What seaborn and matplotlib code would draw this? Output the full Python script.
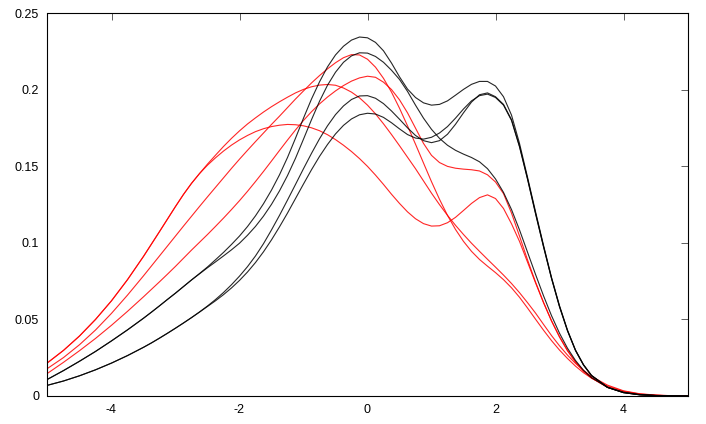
import numpy as np
import pandas as pd
import matplotlib
matplotlib.use("Agg")
import matplotlib.pyplot as plt
import seaborn as sns

x_vals = [-5.0, -4.75, -4.5, -4.25, -4.0, -3.75,
          -3.5, -3.375, -3.25, -3.125, -3.0, -2.875, -2.75, -2.625, -2.5, -2.375,
          -2.25, -2.125, -2.0, -1.875, -1.75, -1.625, -1.5, -1.375, -1.25, -1.125,
          -1.0, -0.875, -0.75, -0.625, -0.5, -0.375, -0.25, -0.125, 0.0, 0.125,
          0.25, 0.375, 0.5, 0.625, 0.75, 0.875, 1.0, 1.125, 1.25, 1.375,
          1.5, 1.625, 1.75, 1.875, 2.0, 2.125, 2.25, 2.375, 2.5, 2.625,
          2.75, 2.875, 3.0, 3.125, 3.25, 3.375, 3.5,
          3.75, 4.0, 4.25, 4.5, 4.75, 5.0]

black_1 = [0.0109, 0.0166, 0.0227, 0.0291, 0.036, 0.0432,
           0.0508, 0.0548, 0.0589, 0.0631, 0.0672, 0.0715, 0.0758, 0.0800, 0.0843, 0.0890,
           0.0938, 0.0990, 0.1045, 0.1107, 0.1177, 0.1256, 0.1345, 0.1445, 0.1558, 0.1684,
           0.1815, 0.1940, 0.2052, 0.2150, 0.2228, 0.2285, 0.2325, 0.2345, 0.2340, 0.2310,
           0.2255, 0.2175, 0.2085, 0.2005, 0.1950, 0.1915, 0.1900, 0.1905, 0.1928, 0.1965,
           0.2003, 0.2036, 0.2055, 0.2055, 0.2025, 0.1955, 0.1835, 0.1650, 0.1430, 0.1205,
           0.0985, 0.0775, 0.0590, 0.0430, 0.0300, 0.0205, 0.0135,
           0.0057, 0.0022, 0.0008, 0.0003, 0.0001, 0.00003]
black_2 = [0.0109, 0.0166, 0.0227, 0.0291, 0.036, 0.0432,
           0.0508, 0.0548, 0.0589, 0.0631, 0.0672, 0.0715, 0.0758, 0.0798, 0.0838, 0.0876,
           0.0915, 0.0955, 0.0998, 0.1050, 0.1108, 0.1175, 0.1252, 0.1340, 0.1440, 0.1553,
           0.1678, 0.1805, 0.1925, 0.2030, 0.2115, 0.2180, 0.2222, 0.2242, 0.2240, 0.2218,
           0.2180, 0.2128, 0.2068, 0.1990, 0.1900, 0.1815, 0.1742, 0.1683, 0.1638, 0.1605,
           0.1580, 0.1558, 0.1530, 0.1485, 0.1418, 0.1330, 0.1218, 0.1085, 0.0940, 0.0795,
           0.0655, 0.0525, 0.0410, 0.0312, 0.0232, 0.0168, 0.0120,
           0.0057, 0.0025, 0.001, 0.0004, 0.00015, 0.00005]
black_3 = [0.007, 0.0098, 0.0132, 0.0171, 0.0215, 0.0264,
           0.0318, 0.0347, 0.0378, 0.0410, 0.0443, 0.0477, 0.0512, 0.0549, 0.0588, 0.0630,
           0.0676, 0.0727, 0.0783, 0.0845, 0.0915, 0.0995, 0.1085, 0.1180, 0.1280, 0.1382,
           0.1485, 0.1585, 0.1680, 0.1765, 0.1838, 0.1895, 0.1937, 0.1960, 0.1962, 0.1945,
           0.1910, 0.1862, 0.1808, 0.1752, 0.1702, 0.1668, 0.1655, 0.1668, 0.1710, 0.1775,
           0.1850, 0.1920, 0.1968, 0.1980, 0.1955, 0.1905, 0.1805, 0.1632, 0.1420, 0.1195,
           0.0978, 0.0770, 0.0585, 0.0427, 0.0298, 0.0203, 0.0134,
           0.0056, 0.0022, 0.0008, 0.0003, 0.0001, 0.00003]
black_4 = [0.007, 0.0098, 0.0132, 0.0171, 0.0215, 0.0264,
           0.0318, 0.0347, 0.0378, 0.0410, 0.0443, 0.0477, 0.0512, 0.0548, 0.0585, 0.0622,
           0.0662, 0.0706, 0.0755, 0.0810, 0.0872, 0.0942, 0.1020, 0.1105, 0.1195, 0.1290,
           0.1385, 0.1478, 0.1565, 0.1643, 0.1712, 0.1768, 0.1810, 0.1837, 0.1847, 0.1842,
           0.1820, 0.1785, 0.1745, 0.1708, 0.1685, 0.1678, 0.1690, 0.1718, 0.1760, 0.1815,
           0.1875, 0.1928, 0.1962, 0.1972, 0.1950, 0.1900, 0.1800, 0.1628, 0.1417, 0.1192,
           0.0975, 0.0768, 0.0583, 0.0426, 0.0297, 0.0202, 0.0133,
           0.0056, 0.0022, 0.0008, 0.0003, 0.0001, 0.00003]

red_1 = [0.0217, 0.0298, 0.0392, 0.0500, 0.0622, 0.0760,
         0.0912, 0.0993, 0.1074, 0.1156, 0.1238, 0.1317, 0.1389, 0.1453, 0.1508, 0.1556,
         0.1600, 0.1639, 0.1673, 0.1702, 0.1727, 0.1746, 0.1760, 0.1769, 0.1774, 0.1772,
         0.1765, 0.1752, 0.1733, 0.1707, 0.1675, 0.1638, 0.1597, 0.1551, 0.1500, 0.1443,
         0.1382, 0.1318, 0.1258, 0.1203, 0.1158, 0.1126, 0.1110, 0.1112, 0.1132, 0.1167,
         0.1212, 0.1258, 0.1296, 0.1314, 0.1290, 0.1225, 0.1125, 0.1010, 0.0875, 0.0740,
         0.0610, 0.0490, 0.0385, 0.0295, 0.0222, 0.0163, 0.0118,
         0.0057, 0.0025, 0.001, 0.0004, 0.00015, 0.00005]
red_2 = [0.0217, 0.0298, 0.0392, 0.0500, 0.0622, 0.0760,
         0.0912, 0.0993, 0.1074, 0.1156, 0.1238, 0.1317, 0.1389, 0.1453, 0.1515, 0.1573,
         0.1630, 0.1683, 0.1732, 0.1777, 0.1817, 0.1855, 0.1890, 0.1922, 0.1952, 0.1980,
         0.2003, 0.2020, 0.2031, 0.2035, 0.2030, 0.2012, 0.1985, 0.1948, 0.1900, 0.1843,
         0.1778, 0.1708, 0.1635, 0.1560, 0.1485, 0.1405, 0.1325, 0.1250, 0.1180, 0.1115,
         0.1055, 0.0998, 0.0945, 0.0893, 0.0842, 0.0790, 0.0735, 0.0675, 0.0610, 0.0542,
         0.0468, 0.0395, 0.0328, 0.0267, 0.0213, 0.0167, 0.0128,
         0.0071, 0.0034, 0.0015, 0.0006, 0.0002, 0.00007]
red_3 = [0.018, 0.0251, 0.0335, 0.0431, 0.0540, 0.0659,
         0.0785, 0.0850, 0.0915, 0.0980, 0.1045, 0.1110, 0.1174, 0.1238, 0.1301, 0.1363,
         0.1425, 0.1487, 0.1547, 0.1605, 0.1662, 0.1718, 0.1774, 0.1828, 0.1884, 0.1940,
         0.1993, 0.2045, 0.2093, 0.2137, 0.2177, 0.2210, 0.2230, 0.2228, 0.2200, 0.2148,
         0.2075, 0.1985, 0.1880, 0.1765, 0.1645, 0.1522, 0.1400, 0.1285, 0.1180, 0.1088,
         0.1010, 0.0945, 0.0892, 0.0848, 0.0806, 0.0760, 0.0707, 0.0645, 0.0575, 0.0502,
         0.0430, 0.0362, 0.0300, 0.0245, 0.0195, 0.0152, 0.0117,
         0.0065, 0.0031, 0.0013, 0.0005, 0.0002, 0.00006]
red_4 = [0.0148, 0.0220, 0.0296, 0.0376, 0.0462, 0.0553,
         0.0648, 0.0697, 0.0746, 0.0796, 0.0847, 0.0900, 0.0953, 0.1004, 0.1055, 0.1108,
         0.1162, 0.1218, 0.1276, 0.1337, 0.1401, 0.1467, 0.1535, 0.1604, 0.1672, 0.1738,
         0.1800, 0.1857, 0.1908, 0.1953, 0.1993, 0.2028, 0.2057, 0.2078, 0.2089, 0.2082,
         0.2050, 0.2002, 0.1935, 0.1850, 0.1750, 0.1650, 0.1572, 0.1525, 0.1500, 0.1488,
         0.1482, 0.1478, 0.1470, 0.1445, 0.1398, 0.1322, 0.1195, 0.1045, 0.0890, 0.0745,
         0.0612, 0.0492, 0.0388, 0.0298, 0.0224, 0.0164, 0.0118,
         0.0057, 0.0025, 0.001, 0.0004, 0.00015, 0.00005]

series = {
    "b1": (black_1, "#000000"), "b2": (black_2, "#000000"),
    "b3": (black_3, "#000000"), "b4": (black_4, "#000000"),
    "r1": (red_1, "#ff0000"), "r2": (red_2, "#ff0000"),
    "r3": (red_3, "#ff0000"), "r4": (red_4, "#ff0000"),
}

x_ticks = [-4, -2, 0, 2, 4]
x_tick_labels = ["-4", "-2", "0", "2", "4"]
y_ticks = [0, 0.05, 0.1, 0.15, 0.2, 0.25]
y_tick_labels = ["0", "0.05", "0.1", "0.15", "0.2", "0.25"]

sns.set_style("white")
plt.rcParams["font.family"] = ["Liberation Sans", "DejaVu Sans"]

fig = plt.figure(figsize=(7.06, 4.24), dpi=100)
ax = fig.add_axes([47.5 / 706, 1 - 396 / 424, 640 / 706, 382.7 / 424])

rows = []
for name, (vals, col) in series.items():
    for xv, yv in zip(x_vals, vals):
        rows.append({"x": xv, "y": yv, "curve": name})
df = pd.DataFrame(rows)
palette = {name: col for name, (vals, col) in series.items()}
order = ["r1", "r2", "r3", "r4", "b1", "b2", "b3", "b4"]
sns.lineplot(data=df, x="x", y="y", hue="curve", hue_order=order, palette=palette,
             ax=ax, linewidth=0.8, legend=False, sort=True, estimator=None)
for ln in ax.get_lines():
    ln.set_alpha(0.85)
    ln.set_solid_joinstyle("round")

ax.set_xlim(-5, 5)
ax.set_ylim(0, 0.25)
ax.set_xticks(x_ticks)
ax.set_xticklabels(x_tick_labels)
ax.set_yticks(y_ticks)
ax.set_yticklabels(y_tick_labels)
ax.set_xlabel("")
ax.set_ylabel("")
for sp in ax.spines.values():
    sp.set_visible(True)
    sp.set_color("#000000")
    sp.set_linewidth(0.8)
ax.tick_params(axis="both", direction="in", length=5, width=0.6, color="#444444",
               top=True, right=True, labelsize=9, pad=6, labelcolor="#000000")
ax.grid(False)

fig.savefig("out.png", dpi=100, facecolor="white")
